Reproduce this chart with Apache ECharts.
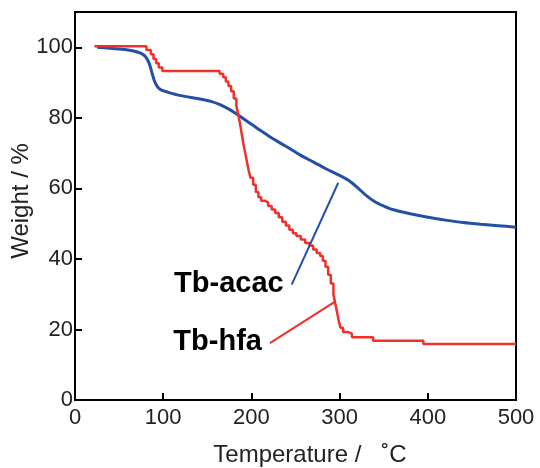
<!DOCTYPE html>
<html><head><meta charset="utf-8">
<script src="https://cdn.jsdelivr.net/npm/echarts@6/dist/echarts.min.js"></script>
<style>html,body{margin:0;padding:0;background:#fff}#c{width:540px;height:468px}</style>
</head><body><div id="c"></div>
<script>
// Tb-acac TGA curve: [temperature °C, weight %]
const acac = [[25,100],[50,99.5],[65,99],[75,98.3],[80,97.3],[84,95.5],[87,93],[90,90.5],[93,89],[97,88],[105,87.3],[120,86.3],[140,85.4],[155,84.6],[165,83.7],[175,82.4],[185,80.8],[195,79],[210,76.5],[225,74],[240,71.8],[255,69.5],[270,67.5],[285,65.5],[300,63.7],[310,62.3],[320,60.3],[330,58],[340,56.2],[350,55],[360,54],[380,52.8],[400,51.8],[420,51],[440,50.3],[460,49.8],[480,49.4],[500,49]];
// Tb-hfa TGA curve (stepped): [temperature °C, weight %]
const hfa = [[22,100.3],[81,99.2],[86,98],[89,96.7],[92,95.5],[95,94.3],[99,93.3],[164,92.5],[168,91.5],[171,90.3],[174,89],[177,87.5],[180,85.5],[183,83.3],[185,81],[187,78.5],[189,75.5],[191,72.5],[193,70],[195,67.5],[197,65],[199,63],[202,61],[205,59],[208,57.5],[211,56.5],[215,56],[219,55],[223,54],[227,53],[231,51.8],[235,50.5],[239,49.5],[243,48.3],[247,47.3],[251,46.5],[256,45.5],[261,44.5],[266,43.8],[270,42.7],[274,41.7],[278,40.8],[281,39.5],[284,37.8],[287,35.5],[290,33],[293,30],[295,27.5],[297,25],[299,22.5],[301,20.5],[304,19.3],[309,18.8],[314,17.8],[338,16.8],[395,15.9],[500,15.9]];
// leader lines for the labels
const acacLeader = [[245.7,32.7],[298.5,61.6]];
const hfaLeader = [[221,16.1],[294.8,27.9]];
const labels = ['Tb-acac','Tb-hfa'];
const xTitle = 'Temperature /   ˚C';
const yTitle = 'Weight / %';

const FONT = 'Liberation Sans';
const chart = echarts.init(document.getElementById('c'), null, {renderer:'canvas'});
function leader(data, color, text){
  return {type:'line', data:data, symbol:'circle', symbolSize:0, showSymbol:true, silent:true,
    lineStyle:{color:color, width:2}, z:3,
    label:{show:true, formatter:function(p){return p.dataIndex===0?text:'';}, position:'left', distance:6, offset:[-2,-1],
      fontFamily:'Liberation Sans', fontWeight:'bold', fontSize:29, color:'#000'}};
}
chart.setOption({
  backgroundColor:'#fff',
  animation:false,
  grid:{left:75, right:24, top:12, bottom:68, show:true, borderColor:'#000', borderWidth:2,
    containLabel:false, outerBoundsMode:'none'},
  xAxis:{type:'value', min:0, max:500, interval:100,
    name:xTitle, nameLocation:'middle', nameGap:43, nameMoveOverlap:false,
    nameTextStyle:{fontFamily:FONT, fontSize:24, color:'#222', padding:[0,0,0,29]},
    axisLine:{lineStyle:{color:'#000', width:2}},
    axisTick:{inside:true, length:7, lineStyle:{color:'#000', width:2}},
    axisLabel:{fontFamily:FONT, fontSize:22, color:'#222', margin:7},
    splitLine:{show:false}},
  yAxis:{type:'value', min:0, max:110, interval:20,
    name:yTitle, nameLocation:'middle', nameGap:42, nameMoveOverlap:false,
    nameTextStyle:{fontFamily:FONT, fontSize:24, color:'#222', padding:[0,0,0,10]},
    axisLine:{lineStyle:{color:'#000', width:2}},
    axisTick:{inside:true, length:7, lineStyle:{color:'#000', width:2}},
    axisLabel:{fontFamily:FONT, fontSize:22, color:'#222', margin:2, showMaxLabel:false,
      formatter:function(v){return v>100?'':String(v);}},
    splitLine:{show:false}},
  series:[
    {type:'line', data:acac, smooth:0.3, showSymbol:false, lineStyle:{color:'#2350a6', width:3}, z:2},
    {type:'line', data:hfa, step:'end', showSymbol:false, lineStyle:{color:'#f0302a', width:2.5}, z:2},
    leader(acacLeader, '#2350a6', labels[0]),
    leader(hfaLeader, '#f0302a', labels[1])
  ]
});
</script></body></html>
